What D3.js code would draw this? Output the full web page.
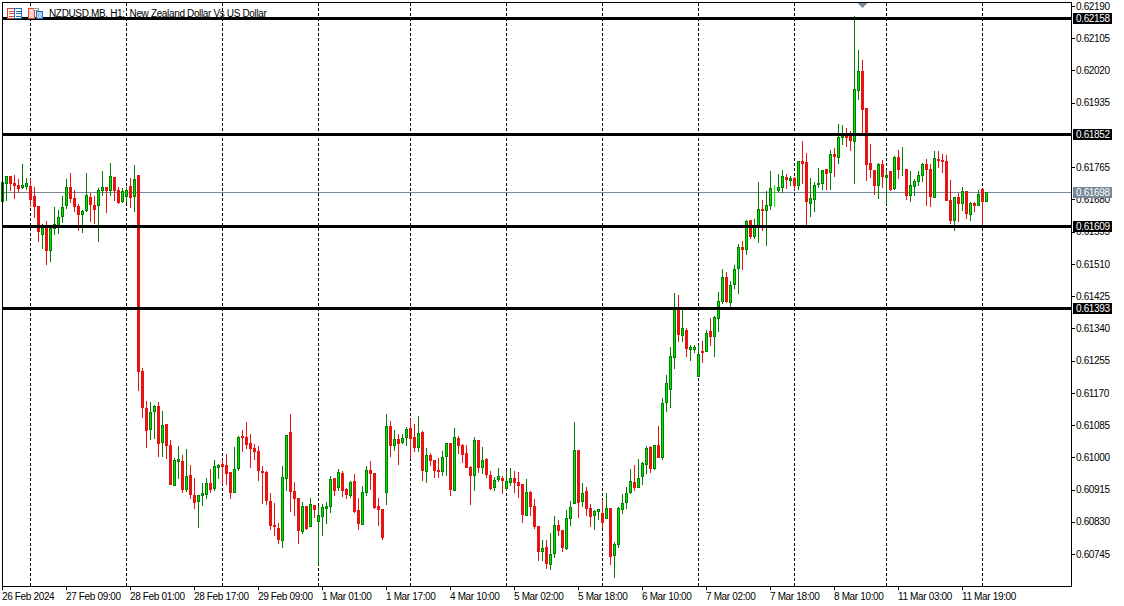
<!DOCTYPE html>
<html>
<head>
<meta charset="utf-8">
<script src="https://cdn.jsdelivr.net/npm/d3@7"></script>
<style>
    body { margin: 0; background: #fff; }
    text { font-family: "Liberation Sans", sans-serif; font-size: 10px; letter-spacing: -0.35px; fill: #000; }
    .axis path, .axis line { stroke: #000; shape-rendering: crispEdges; }
</style>
</head>
<body>
<div id="chart"></div>
<script>
// NZDUSD.MB H1 candles, prices in points (0.61698 -> 61698)
const highs = [61725,61744,61744,61747,61734,61775,61738,61734,61715,61665,
61617,61625,61607,61662,61654,61689,61736,61752,61707,61670,
61654,61751,61697,61691,61711,61757,61715,61777,61741,61715,
61712,61715,61738,61773,61743,61237,61150,61147,61140,61147,
61124,61089,61047,61000,61031,61008,61024,60981,60947,60902,
60934,60947,60971,60995,60984,60995,61010,60963,61029,61058,
61074,61095,61063,61037,61031,60979,60966,60908,60881,60828,
60979,61058,61116,60937,60894,60884,60873,60894,60876,60873,
60879,60884,60952,60947,60971,60966,60921,60939,60958,60894,
60926,60979,60992,60958,60894,60865,61116,61097,61074,61063,
61063,61082,61103,61089,61111,61071,61026,61013,60995,61000,
61018,61037,61037,61079,61058,61037,61034,60979,61056,61048,
61029,61000,60966,60950,60974,60953,60966,60974,60966,60963,
60929,60945,60913,60892,60821,60784,60784,60802,60847,60837,
60808,60863,60887,61095,61021,60934,60924,60879,60863,60863,
60889,60908,60866,60779,60871,60905,60924,60971,60981,60997,
60989,61030,61032,61034,61084,61158,61219,61293,61435,61430,
61390,61343,61298,61298,61298,61308,61337,61369,61374,61438,
61498,61490,61467,61509,61564,61572,61627,61627,61630,61728,
61680,61704,61757,61720,61749,61759,61749,61743,61741,61780,
61836,61804,61738,61728,61765,61759,61762,61812,61817,61881,
61878,61870,61862,62164,62076,62050,61923,61828,61759,61778,
61786,61759,61757,61796,61812,61820,61759,61757,61736,61757,
61778,61788,61775,61810,61810,61802,61799,61733,61686,61699,
61715,61701,61675,61675,61707,61707,61701];

const lows = [61674,61676,61703,61683,61697,61709,61707,61661,61632,61568,
61550,61508,61516,61587,61589,61618,61655,61673,61647,61597,
61592,61649,61621,61616,61568,61690,61645,61690,61678,61668,
61673,61671,61659,61647,61177,61104,61025,61046,61049,61002,
61002,60997,60928,60925,60944,60908,60909,60891,60864,60814,
60874,60891,60907,60912,60944,60930,60929,60891,60907,60965,
61016,61023,60973,60995,60938,60878,60876,60809,60793,60772,
60762,60912,60857,60846,60772,60799,60810,60817,60842,60717,
60793,60825,60854,60899,60912,60896,60891,60893,60854,60809,
60822,60899,60915,60864,60820,60783,60875,61002,61019,60980,
61037,61031,60997,61016,61016,60940,60933,60978,60947,60947,
60951,60952,60899,60912,61010,60986,60973,60875,60912,60961,
60958,60947,60915,60912,60937,60904,60912,60925,60907,60894,
60828,60847,60847,60812,60728,60728,60707,60704,60736,60794,
60751,60758,60821,60879,60841,60871,60847,60818,60810,60837,
60816,60838,60717,60683,60763,60852,60864,60905,60913,60921,
60929,60958,60960,60968,61000,60995,61121,61132,61235,61306,
61306,61266,61256,61277,61213,61250,61279,61294,61266,61332,
61406,61409,61397,61444,61432,61496,61535,61577,61577,61567,
61598,61559,61654,61662,61701,61697,61709,61717,61705,61707,
61722,61612,61634,61647,61712,61705,61705,61705,61740,61775,
61826,61819,61810,61722,61944,61854,61730,61737,61692,61682,
61711,61669,61703,61707,61735,61743,61679,61675,61690,61716,
61728,61664,61661,61685,61764,61751,61677,61616,61598,61622,
61650,61629,61624,61648,61664,61612,61675];

const opens = [61674,61721,61741,61723,61716,61711,61713,61715,61688,61662,
61588,61604,61545,61603,61611,61634,61664,61712,61683,61662,
61640,61650,61685,61664,61664,61703,61712,61703,61738,61704,
61674,61688,61714,61688,61743,61225,61129,61073,61120,61134,
61039,61087,61031,60926,60988,60989,60915,60952,60900,60883,
60899,60902,60931,60917,60973,60981,60979,60960,60907,60971,
61055,61053,61037,61022,61016,60963,60960,60884,60819,60813,
60780,60944,61066,60910,60892,60804,60871,60817,60873,60831,
60844,60864,60871,60944,60921,60958,60915,60899,60937,60860,
60823,60908,60966,60958,60871,60863,60908,61082,61031,61047,
61039,61053,61076,61053,61026,61066,60963,61005,60992,60966,
60963,61002,61037,60912,61050,61032,61011,60974,60952,61045,
60974,60995,60953,60920,60942,60945,60918,60934,60945,60934,
60929,60847,60908,60871,60818,60752,60763,60717,60747,60821,
60806,60760,60839,60879,61019,60884,60911,60866,60847,60858,
60852,60839,60866,60742,60771,60863,60881,60908,60934,60921,
60950,60981,61026,60971,61032,61000,61145,61179,61264,61393,
61322,61335,61285,61285,61213,61279,61279,61332,61319,61366,
61411,61474,61409,61456,61498,61554,61548,61625,61583,61609,
61654,61651,61664,61706,61704,61712,61738,61730,61736,61717,
61780,61778,61670,61680,61719,61722,61759,61751,61799,61791,
61844,61849,61849,61833,61968,62018,61920,61775,61757,61717,
61773,61738,61754,61708,61791,61759,61759,61691,61715,61728,
61744,61773,61759,61686,61786,61783,61781,61678,61625,61686,
61669,61701,61641,61670,61664,61707,61675];

const closes = [61725,61741,61721,61716,61708,61717,61722,61679,61661,61595,
61604,61545,61603,61614,61632,61659,61712,61683,61661,61639,
61648,61690,61666,61653,61704,61712,61703,61741,61703,61671,
61701,61704,61684,61733,61225,61131,61070,61118,61134,61036,
61084,61031,60928,60992,60995,60915,60950,60902,60880,60900,
60905,60931,60915,60976,60979,60977,60957,60907,60968,61053,
61052,61033,61023,61015,60965,60959,60886,60820,60817,60783,
60947,61058,60909,60891,60806,60871,60813,60876,60862,60847,
60868,60871,60942,60913,60960,60912,60901,60934,60857,60825,
60908,60966,60957,60867,60862,60789,61082,61031,61047,61037,
61050,61074,61050,61026,61063,60966,61005,60991,60966,60962,
61000,61037,60915,61053,61032,61008,60973,60952,61045,60974,
60992,60955,60918,60940,60950,60939,60937,60945,60934,60926,
60850,60908,60871,60817,60752,60760,60720,60744,60821,60808,
60763,60839,60868,61019,60882,60905,60866,60843,60858,60863,
60829,60866,60739,60771,60866,60879,60905,60937,60921,60944,
60984,61024,60971,61032,61000,61142,61195,61266,61393,61324,
61340,61287,61290,61290,61271,61277,61327,61319,61369,61411,
61474,61411,61453,61496,61554,61548,61622,61583,61606,61654,
61651,61664,61709,61706,61712,61741,61733,61736,61717,61780,
61775,61675,61683,61717,61722,61757,61748,61799,61794,61844,
61849,61844,61836,61970,62018,61917,61773,61759,61717,61773,
61740,61744,61706,61791,61759,61760,61690,61717,61728,61744,
61773,61759,61687,61788,61782,61781,61677,61625,61686,61669,
61701,61643,61670,61664,61694,61675,61699];

const priceTicks = [62190,62105,62020,61935,61765,61680,61595,61510,61425,61340,61255,61170,61085,61000,60915,60830,60745];
const hLevels = [62158,61852,61609,61393];
const lastPrice = 61698;
const daySeparators = [7,31,55,79,102,126,150,174,198,221,245];
const timeTicks = [0,16,32,48,64,80,96,112,128,144,160,176,192,208,224,240];
const timeLabels = ["26 Feb 2024","27 Feb 09:00","28 Feb 01:00","28 Feb 17:00","29 Feb 09:00","1 Mar 01:00","1 Mar 17:00","4 Mar 10:00",
    "5 Mar 02:00","5 Mar 18:00","6 Mar 10:00","7 Mar 02:00","7 Mar 18:00","8 Mar 10:00","11 Mar 03:00","11 Mar 19:00"];
const highMarkBar = 215;
const title = "NZDUSD.MB, H1:  New Zealand Dollar Vs US Dollar";

const GREEN_LINE = "#007f00", GREEN_FILL = "#00e600", RED = "#e81414", SLATE = "#778899";

const svg = d3.select("#chart").append("svg")
    .attr("width", 1124)
    .attr("height", 606)
    .style("display", "block");

// bar index -> x, window is 267 bars wide at 4px per bar
const x = d3.scaleLinear().domain([0, 267.25]).range([2, 1071]);
const y = d3.scaleLinear().domain([62190, 60745]).range([6, 554]);
const fmt = v => d3.format(".5f")(v / 100000);
const cx = i => x(i) + 0.5;
const py = v => Math.floor(y(v)) + 0.5;

// day separators
svg.append("g").selectAll("line")
    .data(daySeparators)
    .join("line")
    .attr("x1", cx).attr("x2", cx)
    .attr("y1", 3).attr("y2", 586)
    .attr("stroke", "#000")
    .attr("stroke-dasharray", "3,2")
    .attr("shape-rendering", "crispEdges");

// last price line
svg.append("line")
    .attr("x1", 3).attr("x2", 1071)
    .attr("y1", py(lastPrice)).attr("y2", py(lastPrice))
    .attr("stroke", SLATE)
    .attr("shape-rendering", "crispEdges");

// candles
const bars = d3.range(highs.length);
const candles = svg.append("g").attr("shape-rendering", "crispEdges");

candles.selectAll(".wick")
    .data(bars)
    .join("line")
    .attr("class", "wick")
    .attr("x1", cx).attr("x2", cx)
    .attr("y1", i => py(highs[i]))
    .attr("y2", i => py(lows[i]) + 0.5)
    .attr("stroke", i => opens[i] === closes[i] ? "#00ff00" : closes[i] > opens[i] ? GREEN_LINE : RED);

candles.selectAll(".body")
    .data(bars)
    .join("rect")
    .attr("class", "body")
    .attr("x", i => cx(i) - 1)
    .attr("width", 2)
    .attr("y", i => py(Math.max(opens[i], closes[i])))
    .attr("height", i => Math.max(0, py(Math.min(opens[i], closes[i])) - py(Math.max(opens[i], closes[i]))))
    .attr("fill", i => closes[i] >= opens[i] ? GREEN_FILL : RED)
    .attr("stroke", i => opens[i] === closes[i] ? "#00ff00" : closes[i] > opens[i] ? GREEN_LINE : RED);

// horizontal levels
svg.append("g").selectAll("line")
    .data(hLevels)
    .join("line")
    .attr("x1", 3).attr("x2", 1071)
    .attr("y1", py).attr("y2", py)
    .attr("stroke", "#000")
    .attr("stroke-width", 3)
    .attr("shape-rendering", "crispEdges");

// frame, drawn over the first bar
svg.append("path")
    .attr("d", "M2.5,586V2.5H1071.5")
    .attr("fill", "none")
    .attr("stroke", "#000")
    .attr("shape-rendering", "crispEdges");

// axes
const yAxis = d3.axisRight(y)
    .tickValues(priceTicks)
    .tickSize(4)
    .tickSizeOuter(0)
    .tickPadding(1)
    .tickFormat(fmt);

const yAxisGroup = svg.append("g")
    .attr("class", "axis")
    .attr("transform", "translate(1071,0)")
    .call(yAxis);
yAxisGroup.select(".domain").attr("d", "M0.5,2V586.5");

const xAxis = d3.axisBottom(x)
    .tickValues(timeTicks)
    .tickSize(4)
    .tickSizeOuter(0)
    .tickPadding(3)
    .tickFormat((d, i) => timeLabels[i]);

svg.append("g")
    .attr("class", "axis")
    .attr("transform", "translate(0,586)")
    .call(xAxis)
    .selectAll("text")
    .attr("text-anchor", "start")
    .attr("dx", "-0.05em");

// price tags on the right
const tags = hLevels.map(v => ({v: v, color: "#000"})).concat([{v: lastPrice, color: SLATE}]);
const tag = svg.append("g").selectAll("g")
    .data(tags)
    .join("g")
    .attr("transform", d => `translate(1073,${py(d.v) - 5.5})`);
tag.append("rect")
    .attr("width", 39)
    .attr("height", 11)
    .attr("fill", d => d.color);
tag.append("text")
    .attr("x", 3)
    .attr("y", 9)
    .style("fill", "#fff")
    .text(d => fmt(d.v));

// session high marker
svg.append("path")
    .attr("d", `M${cx(highMarkBar) - 5},3H${cx(highMarkBar) + 5}L${cx(highMarkBar)},8Z`)
    .attr("fill", SLATE);

// title and the two little toolbar icons
const icons = svg.append("g").attr("shape-rendering", "crispEdges").attr("fill", "#fff");
icons.append("rect").attr("x", 7.5).attr("y", 8.5).attr("width", 7).attr("height", 10).attr("stroke", "#e8402c");
icons.append("rect").attr("x", 14.5).attr("y", 8.5).attr("width", 7).attr("height", 10).attr("stroke", "#1f6fc0");
[11, 13.5, 16].forEach(v => {
    icons.append("line").attr("x1", 9).attr("x2", 14).attr("y1", v).attr("y2", v).attr("stroke", "#e8402c");
    icons.append("line").attr("x1", 16).attr("x2", 21).attr("y1", v).attr("y2", v).attr("stroke", "#1f6fc0");
});
icons.append("rect").attr("x", 28.5).attr("y", 8.5).attr("width", 6).attr("height", 10).attr("stroke", "#e8402c").attr("fill", "#fbd5cc");
icons.append("rect").attr("x", 36.5).attr("y", 11.5).attr("width", 6).attr("height", 7).attr("stroke", "#1f6fc0").attr("fill", "#a9d3f0");
icons.append("rect").attr("x", 33.5).attr("y", 8.5).attr("width", 5).attr("height", 2).attr("stroke", "#999");

svg.append("text")
    .attr("x", 49)
    .attr("y", 17)
    .attr("xml:space", "preserve")
    .style("white-space", "pre")
    .text(title);
</script>
</body>
</html>
